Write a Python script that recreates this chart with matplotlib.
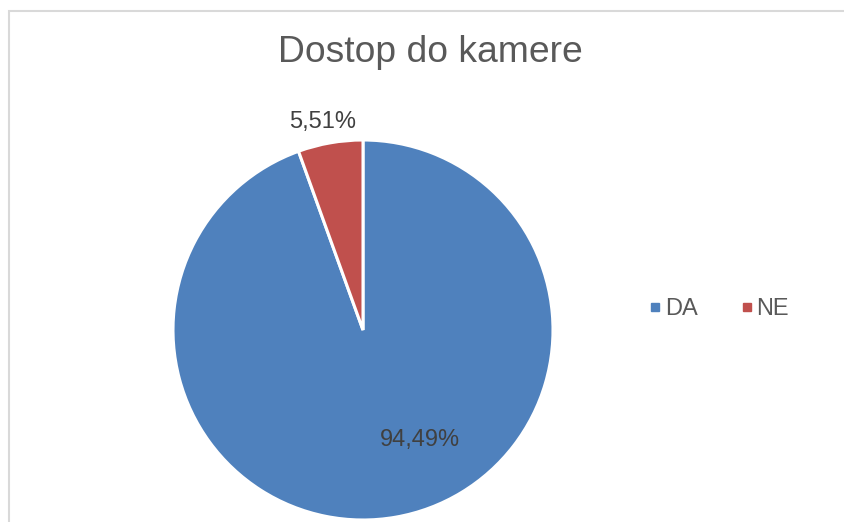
import matplotlib.pyplot as plt
from matplotlib.lines import Line2D
from matplotlib.patches import Rectangle
import numpy as np

plt.rcParams['font.family'] = ['Liberation Sans', 'DejaVu Sans']

categories = ['DA', 'NE']
values = [94.49, 5.51]
labels = ['94,49%', '5,51%']
colors = ['#4F81BD', '#C0504D']

W, H = 844, 522
fig = plt.figure(figsize=(W / 100, H / 100), dpi=100)

# chart frame (cropped on the right and bottom)
fig.patches.append(Rectangle((8.5 / W, -0.1), 1.2, (H - 10.5) / H + 0.1,
                             transform=fig.transFigure, fill=False,
                             edgecolor='#D9D9D9', lw=1.5))

fig.text(430 / W, 1 - 52 / H, 'Dostop do kamere', ha='center', va='center',
         fontsize=26.8, color='#595959')

# pie: center (363, 330) px, radius 190 px
r = 190
ax = fig.add_axes([(363 - r) / W, (H - 330 - r) / H, 2 * r / W, 2 * r / H])
wedges, _ = ax.pie(values, colors=colors, startangle=90, counterclock=False,
                   wedgeprops=dict(edgecolor='white', linewidth=2.2))
ax.set_xlim(-1, 1)
ax.set_ylim(-1, 1)
ax.set_aspect('equal')
ax.axis('off')

# data labels
ax.text(0.30, -0.58, labels[0], ha='center', va='center', fontsize=17, color='#404040')
ax.text(-0.21, 1.095, labels[1], ha='center', va='center', fontsize=17, color='#404040')

handles = [Line2D([], [], marker='s', linestyle='none', markersize=6,
                  markerfacecolor=c, markeredgecolor=c) for c in colors]
fig.legend(handles, categories, loc='center', bbox_to_anchor=(718 / W, 1 - 309 / H),
           ncol=2, frameon=False, fontsize=17, labelcolor='#595959',
           handletextpad=0.05, columnspacing=1.75, handlelength=0.7)

fig.savefig('out.png', dpi=100)
